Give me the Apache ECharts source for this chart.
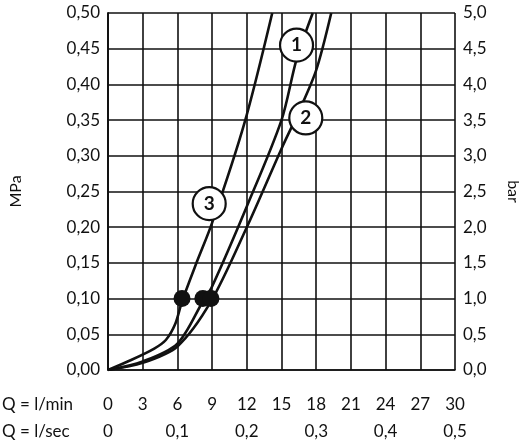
<!DOCTYPE html>
<html>
<head>
<meta charset="utf-8">
<script src="https://cdn.jsdelivr.net/npm/echarts@6/dist/echarts.min.js"></script>
<style>html,body{margin:0;padding:0;background:#fff}#chart{width:529px;height:444px}</style>
</head>
<body>
<div id="chart"></div>
<script>
// curve points [Q l/min, p MPa]
var curve1 = [[0, 0], [3, 0.012], [6, 0.037], [8.2, 0.096], [9, 0.117], [12, 0.229], [15, 0.35], [16.3, 0.435], [17.7, 0.5]]
var curve2 = [[0, 0], [3, 0.010], [6, 0.033], [8.9, 0.096], [12, 0.20], [15, 0.31], [16.5, 0.362], [18, 0.42], [19.3, 0.5]]
var curve3 = [[0, 0], [2, 0.014], [4, 0.030], [5, 0.042], [5.8, 0.064], [6.4, 0.096], [7.6, 0.148], [9, 0.206], [11.8, 0.346], [14.2, 0.5]]
var dots = [[6.4, 0.1], [8.2, 0.1], [8.9, 0.1]]
var tags = [['1', 16.3, 0.455], ['2', 17.1, 0.353], ['3', 8.75, 0.233]]

var font = 'Lato'
var comma = (v, d) => v.toFixed(d).replace('.', ',')
var lineStyle = {color: '#111', width: 1.6}

var chart = echarts.init(document.getElementById('chart'))

var curveSeries = (data) => ({
    type: 'line', data: data, smooth: 0.3, symbol: 'none',
    lineStyle: {color: '#111', width: 2.6}, xAxisIndex: 0, yAxisIndex: 0
})

var option = {
    animation: false,
    grid: {left: 106, right: 66, top: 13, bottom: 74},
    xAxis: [{
        type: 'value', min: 0, max: 30, interval: 3,
        axisLine: {lineStyle: lineStyle}, axisTick: {show: false},
        splitLine: {lineStyle: lineStyle},
        axisLabel: {color: '#111', fontSize: 17, fontFamily: font, margin: 26}
    }, {
        type: 'value', min: 0, max: 0.5, interval: 0.1, position: 'bottom', offset: 27,
        axisLine: {show: false}, axisTick: {show: false}, splitLine: {show: false},
        axisLabel: {color: '#111', fontSize: 17, fontFamily: font, margin: 26,
            formatter: (v) => v == 0 ? '0' : comma(v, 1)}
    }],
    yAxis: [{
        type: 'value', min: 0, max: 0.5, interval: 0.05,
        name: 'MPa', nameLocation: 'middle', nameGap: 84, nameRotate: 90,
        nameTextStyle: {color: '#111', fontSize: 16, fontFamily: font},
        axisLine: {show: true, lineStyle: lineStyle}, axisTick: {show: false},
        splitLine: {lineStyle: lineStyle},
        axisLabel: {color: '#111', fontSize: 17, fontFamily: font, margin: 8,
            formatter: (v) => comma(v, 2)}
    }, {
        type: 'value', min: 0, max: 5, interval: 0.5, position: 'right',
        name: 'bar', nameLocation: 'middle', nameGap: 50, nameRotate: -90,
        nameTextStyle: {color: '#111', fontSize: 16, fontFamily: font},
        axisLine: {show: true, lineStyle: lineStyle}, axisTick: {show: false},
        splitLine: {show: false},
        axisLabel: {color: '#111', fontSize: 17, fontFamily: font, margin: 8,
            formatter: (v) => comma(v, 1)}
    }],
    series: [
        curveSeries(curve1),
        curveSeries(curve2),
        curveSeries(curve3),
        {
            type: 'scatter', data: dots, symbolSize: 17, z: 5,
            itemStyle: {color: '#111', opacity: 1}
        },
        {
            type: 'scatter', z: 6, symbolSize: 33,
            data: tags.map((t) => ({value: [t[1], t[2]], name: t[0]})),
            itemStyle: {color: '#fff', borderColor: '#111', borderWidth: 2.2, opacity: 1},
            label: {show: true, position: 'inside', formatter: (p) => p.name,
                color: '#111', fontSize: 19, fontWeight: 'bold', fontFamily: font}
        }
    ],
    graphic: [
        {type: 'text', left: 2, top: 396, style: {text: 'Q = l/min', fill: '#111', fontSize: 17, fontFamily: font}},
        {type: 'text', left: 2, top: 423, style: {text: 'Q = l/sec', fill: '#111', fontSize: 17, fontFamily: font}}
    ]
}

chart.setOption(option)
</script>
</body>
</html>
